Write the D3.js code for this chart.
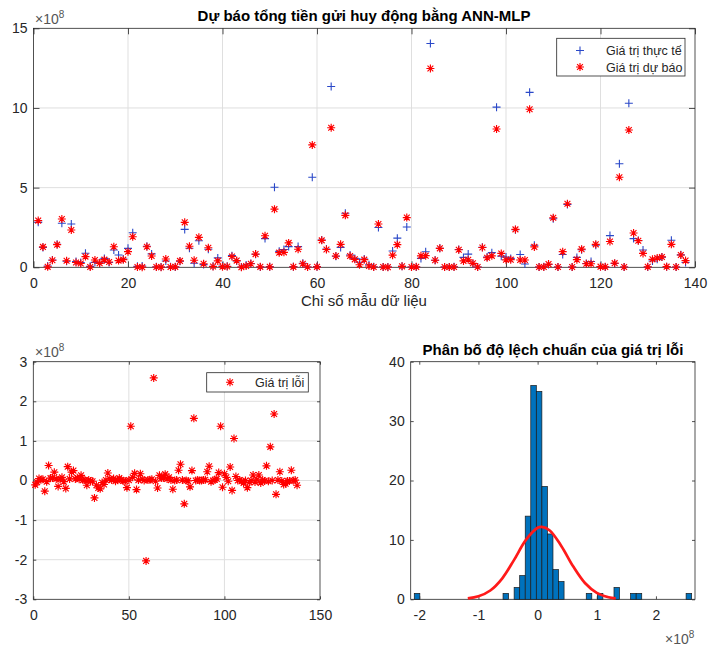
<!DOCTYPE html>
<html><head><meta charset="utf-8">
<script src="https://cdn.jsdelivr.net/npm/d3@7"></script>
<style>
body{margin:0;background:#fff}
svg{display:block}
text{font-family:"Liberation Sans",Arial,Helvetica,sans-serif;fill:#262626}
</style>
</head><body>
<svg id="chart" width="708" height="649"></svg>
<script>
// ---------------- DATA (values in units of 1e8) ----------------
const actualValues = [
 2.82,1.24,0.08,0.46,1.45,2.76,0.38,2.72,0.36,0.30,
 0.88,0.06,0.31,0.28,0.56,0.30,1.09,0.77,0.52,1.19,
 2.17,0.06,0.08,1.32,0.84,0.03,0.02,0.40,0.03,0.02,
 0.38,2.38,1.20,0.25,1.67,0.17,1.13,0.06,0.59,0.08,
 0.06,0.73,0.40,0.02,0.14,0.24,0.82,0.02,1.80,0.04,
 5.02,1.00,1.12,1.30,0.04,1.30,0.25,0.02,5.65,0.04,
 1.71,1.15,11.35,0.69,1.25,3.39,0.77,0.56,0.32,0.52,
 0.16,0.03,2.50,0.02,0.02,1.02,1.83,0.07,2.53,0.02,
 0.02,0.56,0.98,14.05,0.44,1.20,0.02,0.02,0.03,1.12,
 0.62,0.83,0.22,0.02,1.26,0.64,0.92,10.05,0.70,0.64,
 0.56,2.36,0.80,0.21,10.98,1.38,0.02,0.03,0.18,3.05,
 0.02,0.80,3.94,0.02,0.62,1.10,0.24,0.36,1.38,0.05,
 0.02,1.99,0.24,6.50,0.02,10.30,1.80,1.68,1.09,0.02,
 0.40,0.50,0.64,0.03,1.70,0.02,0.78,0.30
];
const predictedValues = [
 2.93,1.28,0.03,0.44,1.42,3.03,0.41,2.34,0.30,0.24,
 0.67,0.02,0.46,0.25,0.48,0.33,1.29,0.42,0.48,0.98,
 1.92,0.02,0.01,1.29,0.71,0.02,0.01,0.52,0.02,0.03,
 0.40,2.82,1.32,0.44,1.88,0.22,1.23,0.05,0.40,0.04,
 0.05,0.68,0.42,0.01,0.08,0.22,0.83,0.03,1.98,0.03,
 3.65,0.92,0.94,1.53,0.03,1.13,0.22,0.02,7.68,0.03,
 1.69,1.12,8.76,0.71,1.44,3.26,0.71,0.50,0.16,0.48,
 0.08,0.02,2.72,0.02,0.01,0.76,1.42,0.06,3.12,0.02,
 0.03,0.72,0.73,12.48,0.44,1.19,0.02,0.02,0.02,1.10,
 0.40,0.47,0.25,0.02,1.24,0.60,0.72,8.68,0.87,0.47,
 0.48,2.38,0.46,0.46,9.92,1.28,0.02,0.02,0.20,3.11,
 0.02,0.98,3.99,0.02,0.48,1.14,0.22,0.22,1.44,0.04,
 0.03,1.62,0.26,5.65,0.02,8.62,2.15,1.67,0.87,0.03,
 0.50,0.58,0.65,0.04,1.44,0.02,0.77,0.42
];
const errorValues = [
 -0.11,-0.04,0.05,0.02,0.03,-0.27,-0.03,0.38,0.06,0.06,
 0.21,0.04,-0.15,0.03,0.08,-0.03,-0.20,0.35,0.04,0.21,
 0.25,0.04,0.07,0.03,0.13,0.01,0.01,-0.12,0.01,-0.01,
 -0.02,-0.44,-0.12,-0.19,-0.21,-0.05,-0.10,0.01,0.19,0.04,
 0.01,0.05,-0.02,0.01,0.06,0.02,-0.01,-0.01,-0.18,0.01,
 1.37,0.08,0.18,-0.23,0.01,0.17,0.03,0.00,-2.03,0.01,
 0.02,0.03,2.59,-0.02,-0.19,0.13,0.06,0.06,0.16,0.04,
 0.08,0.01,-0.22,0.00,0.01,0.26,0.41,0.01,-0.59,0.00,
 -0.01,-0.16,0.25,1.57,0.00,0.01,0.00,0.00,0.01,0.02,
 0.22,0.36,-0.03,0.00,0.02,0.04,0.20,1.37,-0.17,0.17,
 0.08,-0.02,0.34,-0.25,1.06,0.10,0.00,0.01,-0.02,-0.06,
 0.00,-0.18,-0.05,0.00,0.14,-0.04,0.02,0.14,-0.06,0.01,
 -0.01,0.37,-0.02,0.85,0.00,1.68,-0.35,0.01,0.22,-0.01,
 -0.10,-0.08,-0.01,-0.01,0.26,0.00,0.01,-0.12
];
// histogram: 50 equal bins from the first edge
const histFirstEdge = -2.0845;
const histBinWidth = 0.09376;
const histCounts = [
 1,0,0,0,0,0,0,0,0,0,
 0,0,0,0,0,0,1,0,2,4,
 14,36,35,19,11,5,3,0,0,0,
 0,1,0,1,0,0,2,0,0,1,
 1,0,0,0,0,0,0,0,0,1
];
// fitted normal curve
const fitX = [-1.18,-1.0,-0.8,-0.6,-0.4,-0.2,0.0,0.069,0.2,0.4,0.6,0.8,1.0,1.2,1.32];
const fitY = [0.16,0.50,1.48,3.49,6.60,9.97,12.04,12.2,11.63,8.99,5.55,2.74,1.08,0.34,0.15];

const topXTicks = [0,20,40,60,80,100,120,140];
const topYTicks = [0,5,10,15];
const errXTicks = [0,50,100,150];
const errYTicks = [-3,-2,-1,0,1,2,3];
const histXTicks = [-2,-1,0,1,2];
const histYTicks = [0,10,20,30,40];

const titleTop = "Dự báo tổng tiền gửi huy động bằng ANN-MLP";
const xLabelTop = "Chỉ số mẫu dữ liệu";
const legendTop = ["Giá trị thực tế","Giá trị dự báo"];
const legendErr = "Giá trị lỗi";
const titleHist = "Phân bố độ lệch chuẩn của giá trị lỗi";

// ---------------- DRAWING ----------------
const svg = d3.select("#chart");
const AX = "#262626";
const TICKFS = "14px";

const plusPath = "M-4,0H4M0,-4V4";
const starPath = "M-4,0H4M0,-4V4M-2.9,-2.9L2.9,2.9M-2.9,2.9L2.9,-2.9";

function frame(x, y, xt, yt, opt) {
  const g = svg.append("g");
  const [x0, x1] = x.range(), [y0, y1] = y.range();
  if (opt.grid) {
    g.selectAll(null).data(xt.filter(v => x(v) > x0 + 1 && x(v) < x1 - 1)).join("line")
      .attr("x1", d => x(d)).attr("x2", d => x(d)).attr("y1", y0).attr("y2", y1)
      .attr("stroke", "#dfdfdf").attr("stroke-width", 1);
    g.selectAll(null).data(yt.filter(v => y(v) < y0 - 1 && y(v) > y1 + 1)).join("line")
      .attr("y1", d => y(d)).attr("y2", d => y(d)).attr("x1", x0).attr("x2", x1)
      .attr("stroke", "#dfdfdf").attr("stroke-width", 1);
  }
  const tl = opt.tickLen;
  const style = s => {
    s.select(".domain").remove();
    s.selectAll(".tick line").attr("stroke", AX).attr("stroke-width", 0.8);
    s.selectAll(".tick text").attr("fill", AX).style("font-size", TICKFS)
      .attr("font-family", '"Liberation Sans",Arial,sans-serif');
  };
  g.append("g").attr("transform", `translate(0,${y0})`)
    .call(d3.axisBottom(x).tickValues(xt).tickSizeInner(-tl).tickSizeOuter(0).tickPadding(10.5).tickFormat(d => String(d)))
    .call(style);
  g.append("g").attr("transform", `translate(0,${y1})`)
    .call(d3.axisTop(x).tickValues(xt).tickSizeInner(-tl).tickSizeOuter(0).tickFormat(""))
    .call(style);
  g.append("g").attr("transform", `translate(${x0},0)`)
    .call(d3.axisLeft(y).tickValues(yt).tickSizeInner(-tl).tickSizeOuter(0).tickPadding(6).tickFormat(d => String(d)))
    .call(style);
  g.append("g").attr("transform", `translate(${x1},0)`)
    .call(d3.axisRight(y).tickValues(yt).tickSizeInner(-tl).tickSizeOuter(0).tickFormat(""))
    .call(style);
  g.append("rect").attr("x", x0).attr("y", y1).attr("width", x1 - x0).attr("height", y0 - y1)
    .attr("fill", "none").attr("stroke", AX).attr("stroke-width", 0.8);
  return g;
}

function exponent(xp, yb) {
  const t = svg.append("text").attr("x", xp).attr("y", yb).style("font-size", TICKFS).style("fill", "#555");
  t.append("tspan").text("×10");
  t.append("tspan").attr("dy", -6).style("font-size", "10px").text("8");
}

// ---- Top chart ----
const xTop = d3.scaleLinear().domain([0, 140]).range([33.5, 695]);
const yTop = d3.scaleLinear().domain([0, 15]).range([267.3, 28.3]);
frame(xTop, yTop, topXTicks, topYTicks, {grid: true, tickLen: 6});
const gTop = svg.append("g");
gTop.selectAll(".act").data(actualValues).join("path").attr("class", "act")
  .attr("d", plusPath).attr("transform", (d, i) => `translate(${xTop(i + 1)},${yTop(d)})`)
  .attr("stroke", "#2a48c8").attr("stroke-width", 1.1).attr("fill", "none");
gTop.selectAll(".pred").data(predictedValues).join("path").attr("class", "pred")
  .attr("d", starPath).attr("transform", (d, i) => `translate(${xTop(i + 1)},${yTop(d)})`)
  .attr("stroke", "#ff0000").attr("stroke-width", 1.15).attr("fill", "none");
svg.append("text").attr("x", 364).attr("y", 20.5).attr("text-anchor", "middle")
  .style("font-size", "15px").style("font-weight", "bold").style("fill", "#000").text(titleTop);
svg.append("text").attr("x", 364).attr("y", 306).attr("text-anchor", "middle")
  .style("font-size", "15px").text(xLabelTop);
exponent(35, 23.5);
// legend
const lg = svg.append("g");
lg.append("rect").attr("x", 556.7).attr("y", 38.3).attr("width", 128.3).attr("height", 37.7)
  .attr("fill", "#fff").attr("stroke", AX).attr("stroke-width", 0.8);
lg.append("path").attr("d", plusPath).attr("transform", "translate(580,50.5)")
  .attr("stroke", "#2a48c8").attr("stroke-width", 1.1).attr("fill", "none");
lg.append("path").attr("d", starPath).attr("transform", "translate(580,67)")
  .attr("stroke", "#ff0000").attr("stroke-width", 1.15).attr("fill", "none");
lg.append("text").attr("x", 606).attr("y", 55).style("font-size", "12.5px").text(legendTop[0]);
lg.append("text").attr("x", 606).attr("y", 71.5).style("font-size", "12.5px").text(legendTop[1]);

// ---- Bottom-left error chart ----
const xErr = d3.scaleLinear().domain([0, 150]).range([33.3, 320]);
const yErr = d3.scaleLinear().domain([-3, 3]).range([599.3, 361.7]);
frame(xErr, yErr, errXTicks, errYTicks, {grid: true, tickLen: 3});
svg.append("g").selectAll("path").data(errorValues).join("path")
  .attr("d", starPath).attr("transform", (d, i) => `translate(${xErr(i + 1)},${yErr(d)})`)
  .attr("stroke", "#ff0000").attr("stroke-width", 1.15).attr("fill", "none");
exponent(35, 357);
const le = svg.append("g");
le.append("rect").attr("x", 206.7).attr("y", 372.7).attr("width", 101.6).attr("height", 19.3)
  .attr("fill", "#fff").attr("stroke", AX).attr("stroke-width", 0.8);
le.append("path").attr("d", starPath).attr("transform", "translate(230,382.3)")
  .attr("stroke", "#ff0000").attr("stroke-width", 1.15).attr("fill", "none");
le.append("text").attr("x", 255).attr("y", 386.8).style("font-size", "12.5px").text(legendErr);

// ---- Bottom-right histogram ----
const xHist = d3.scaleLinear().domain([-2.145, 2.66]).range([410.7, 695]);
const yHist = d3.scaleLinear().domain([0, 40]).range([599.3, 361.7]);
frame(xHist, yHist, histXTicks, histYTicks, {grid: false, tickLen: 3});
const bins = histCounts.map((c, k) => ({x0: histFirstEdge + k * histBinWidth, x1: histFirstEdge + (k + 1) * histBinWidth, c}));
svg.append("g").selectAll("rect").data(bins.filter(b => b.c > 0)).join("rect")
  .attr("x", d => xHist(d.x0)).attr("width", d => xHist(d.x1) - xHist(d.x0))
  .attr("y", d => yHist(d.c)).attr("height", d => yHist(0) - yHist(d.c))
  .attr("fill", "#0072BD").attr("stroke", "#1a1a1a").attr("stroke-width", 0.7);
const fitLine = d3.line().x(d => xHist(d[0])).y(d => yHist(d[1])).curve(d3.curveCatmullRom);
svg.append("path").attr("d", fitLine(fitX.map((v, i) => [v, fitY[i]])))
  .attr("fill", "none").attr("stroke", "#ff1a1a").attr("stroke-width", 2.7);
svg.append("text").attr("x", 553).attr("y", 354.5).attr("text-anchor", "middle")
  .style("font-size", "15px").style("font-weight", "bold").style("fill", "#000").text(titleHist);
exponent(665, 644);
</script>
</body></html>
